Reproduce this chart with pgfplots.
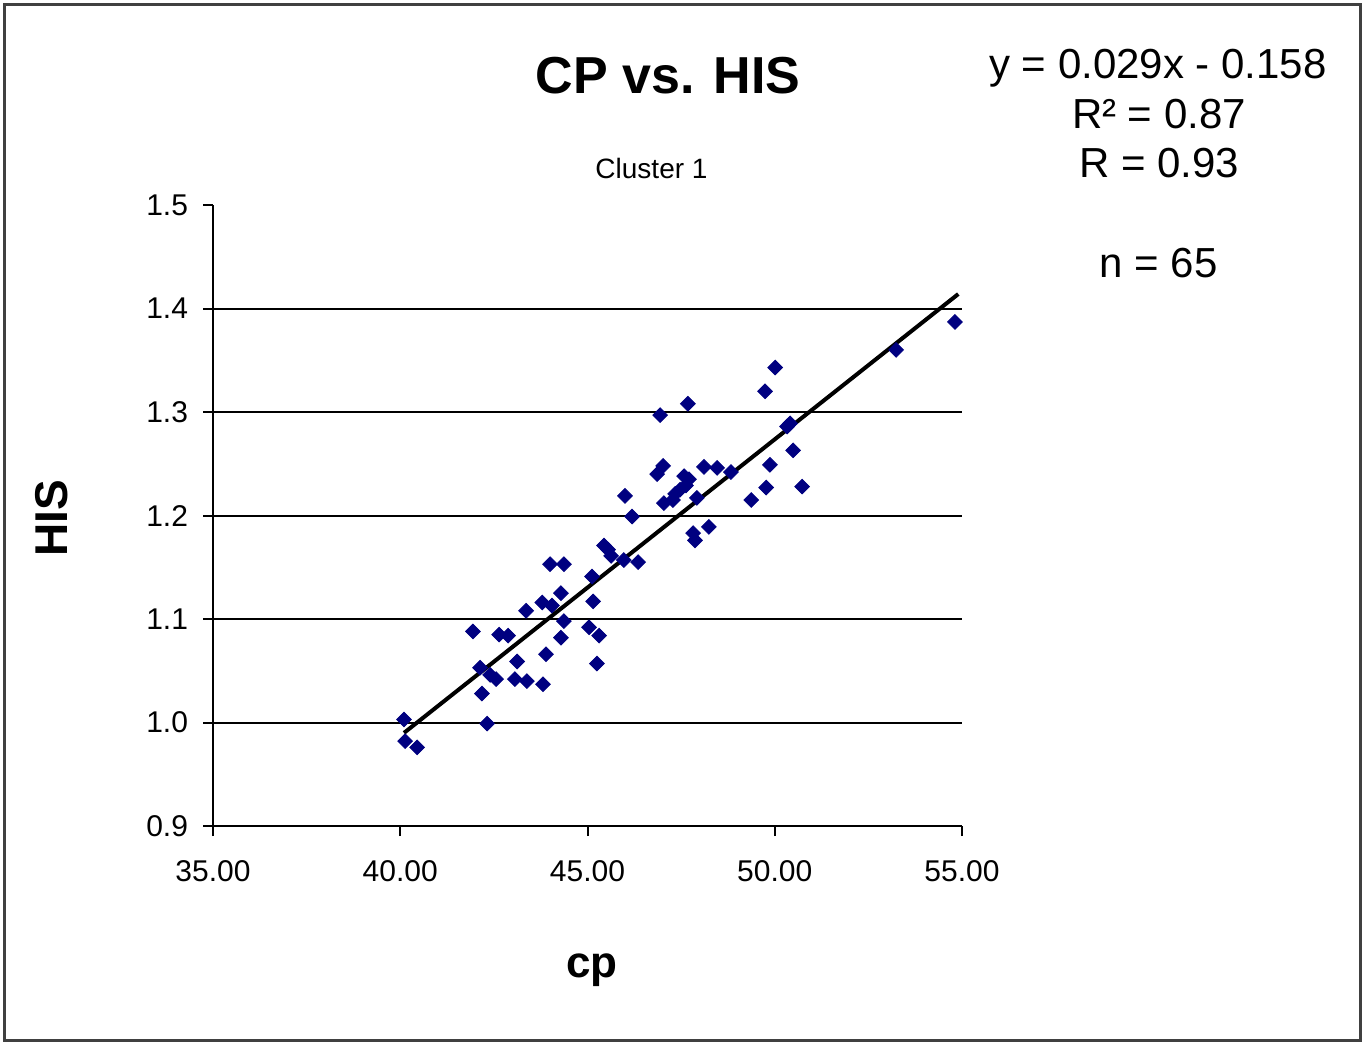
\documentclass[border=0pt]{standalone}
\usepackage{pgfplots}
\pgfplotsset{compat=1.18}
\usepackage{fontspec}
\setmainfont{Liberation Sans}
\definecolor{ptnavy}{HTML}{000080}
\begin{document}
\begin{tikzpicture}
\begin{axis}[
  at={(106.5bp,-413bp)}, anchor=south west,
  scale only axis, width=374.5bp, height=310.5bp,
  xmin=35, xmax=55, ymin=0.9, ymax=1.5,
  axis x line*=bottom, axis y line*=left,
  axis line style={black, line width=1bp},
  tick align=outside, major tick length=5bp,
  tick style={black, line width=1bp},
  xtick={35,40,45,50,55}, ytick={0.9,1.0,1.1,1.2,1.3,1.4,1.5},
  extra y ticks={1.0,1.1,1.2,1.3,1.4}, extra y tick labels={},
  extra y tick style={major tick length=0pt, grid=major},
  major grid style={black, line width=1bp},
  xticklabel style={yshift=-8.5bp, /pgf/number format/fixed, /pgf/number format/fixed zerofill, /pgf/number format/precision=2},
  yticklabel style={xshift=-4bp, /pgf/number format/fixed, /pgf/number format/fixed zerofill, /pgf/number format/precision=1},
  /pgf/number format/assume math mode=true,
  tick label style={font=\fontsize{15bp}{18bp}\selectfont},
  clip=false,
]
\addplot[only marks, mark=square*, mark size=2.6bp, ptnavy, mark options={rotate=45, fill=ptnavy, draw=ptnavy}] table {
x y
40.10 1.003
40.13 0.982
40.45 0.976
41.94 1.088
42.13 1.053
42.18 1.028
42.32 0.999
42.40 1.046
42.56 1.042
42.64 1.085
42.88 1.084
43.06 1.042
43.12 1.059
43.36 1.108
43.38 1.040
43.79 1.116
43.81 1.037
43.89 1.066
44.00 1.153
44.05 1.113
44.29 1.125
44.29 1.082
44.37 1.153
44.37 1.098
45.04 1.092
45.12 1.141
45.15 1.117
45.25 1.057
45.31 1.084
45.44 1.171
45.55 1.167
45.63 1.161
45.97 1.157
46.00 1.219
46.19 1.199
46.35 1.155
46.86 1.240
46.94 1.297
47.02 1.248
47.04 1.212
47.28 1.215
47.34 1.221
47.47 1.225
47.58 1.238
47.63 1.229
47.68 1.308
47.71 1.235
47.82 1.183
47.87 1.176
47.92 1.217
48.11 1.247
48.24 1.189
48.46 1.246
48.83 1.242
49.37 1.215
49.74 1.320
49.77 1.227
49.87 1.249
50.01 1.343
50.33 1.286
50.41 1.289
50.49 1.263
50.73 1.228
53.24 1.360
54.81 1.387
};
\addplot[black, line width=2bp] coordinates {(40.10,0.990) (54.90,1.414)};
\end{axis}
\begin{scope}[x=0.5bp, y=-0.5bp]
\useasboundingbox (0,0) rectangle (1363,1043);
\draw[black!75, line width=1.5bp] (4,4) rectangle (1360,1040);
\node[anchor=base, inner sep=0pt, font=\fontsize{26bp}{30bp}\selectfont\bfseries] at (668,93) {CP vs. HIS};
\node[anchor=base, inner sep=0pt, font=\fontsize{14bp}{17bp}\selectfont] at (651.5,178) {Cluster 1};
\node[anchor=base, inner sep=0pt, font=\fontsize{21bp}{25bp}\selectfont] at (1158,78) {y = 0.029x - 0.158};
\node[anchor=base, inner sep=0pt, font=\fontsize{21bp}{25bp}\selectfont] at (1159,128) {R² = 0.87};
\node[anchor=base, inner sep=0pt, font=\fontsize{21bp}{25bp}\selectfont] at (1159,177) {R = 0.93};
\node[anchor=base, inner sep=0pt, font=\fontsize{21bp}{25bp}\selectfont] at (1158.5,277) {n = 65};
\node[anchor=base, inner sep=0pt, rotate=90, font=\fontsize{23bp}{27bp}\selectfont\bfseries] at (67,518) {HIS};
\node[anchor=base, inner sep=0pt, font=\fontsize{22bp}{26bp}\selectfont\bfseries] at (592,977) {cp};
\end{scope}
\end{tikzpicture}
\end{document}
